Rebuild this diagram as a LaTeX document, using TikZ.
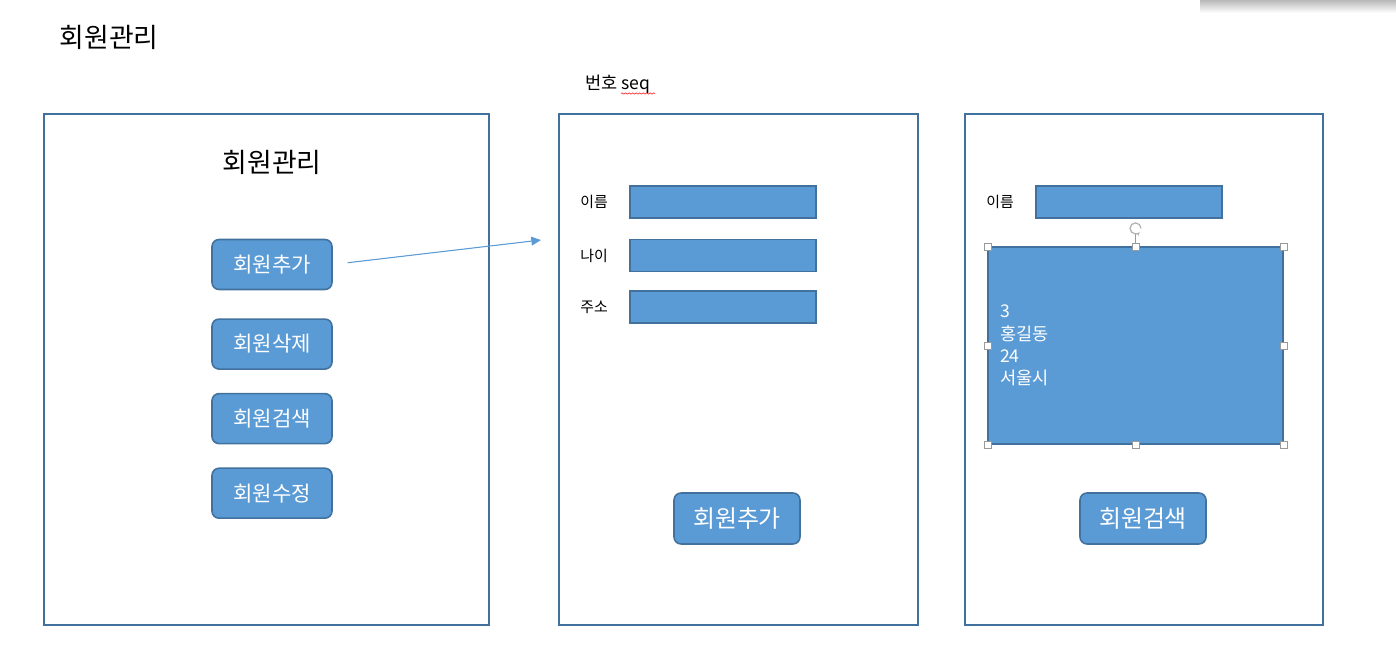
\documentclass[tikz,border=0pt]{standalone}
\usepackage{fontspec}
\setmainfont{Noto Sans CJK KR}
\usetikzlibrary{positioning,arrows.meta,decorations.pathmorphing}
\definecolor{boxblue}{HTML}{5B9BD5}
\definecolor{lineblue}{HTML}{41719C}
\begin{document}
\begin{tikzpicture}[x=0.02cm,y=-0.02cm,
    frame/.style={draw=lineblue,line width=1.1pt,anchor=north west,inner sep=0pt},
    btn/.style={fill=boxblue,draw=lineblue,line width=0.9pt,rounded corners=4pt,
      text=white,minimum width=2.4cm,minimum height=1cm,font=\fontsize{12pt}{14pt}\selectfont},
    bigbtn/.style={btn,minimum width=2.52cm,minimum height=1.02cm,font=\fontsize{13.6pt}{16pt}\selectfont},
    field/.style={fill=boxblue,draw=lineblue,line width=0.9pt,minimum width=3.72cm,minimum height=0.64cm,inner sep=0pt},
    label/.style={font=\fontsize{8.5pt}{10pt}\selectfont,inner sep=0pt},
    handle/.style={draw=gray!80,fill=white,line width=0.4pt,minimum size=0.14cm,inner sep=0pt}]
    \useasboundingbox (0,0) rectangle (1396,671);
    % window shadow in the corner
    \shade[top color=gray!55,bottom color=white] (1200,0) rectangle (1396,13);

    \node[font=\fontsize{15.3pt}{18pt}\selectfont] (title) at (109,37) {회원관리};

    % menu screen
    \node[frame,minimum width=8.9cm,minimum height=10.22cm] (menu) at (43,113) {};
    \node[font=\fontsize{15.3pt}{18pt}\selectfont] (menutitle) at (272,162) {회원관리};
    \node[btn] (add) at (272,264.5) {회원추가};
    \node[btn] (del) [below=0.56cm of add] {회원삭제};
    \node[btn] (find) [below=0.46cm of del] {회원검색};
    \node[btn] (edit) [below=0.46cm of find] {회원수정};

    % add screen
    \node[frame,minimum width=7.18cm,minimum height=10.22cm] (addscr) at (558,113) {};
    \node[font=\fontsize{10pt}{12pt}\selectfont] (seq) at (618,84) {번호 seq};
    \draw[red!80,line width=0.4pt,decorate,decoration={snake,amplitude=0.35pt,segment length=2pt}]
      (621,93.5) -- (655,93.5);
    \node[field] (f1) at (723,202) {};
    \node[field] (f2) [below=0.4cm of f1] {};
    \node[field] (f3) [below=0.36cm of f2] {};
    \node[label] (l1) [left=0.42cm of f1] {이름};
    \node[label] (l2) [left=0.42cm of f2] {나이};
    \node[label] (l3) [left=0.42cm of f3] {주소};
    \node[bigbtn] (addbtn) at (737,518.5) {회원추가};

    \coordinate (tgt) at (541,240);
    \draw[-{Triangle[length=5.5pt,width=5pt]},draw=boxblue,fill=boxblue,line width=0.6pt,
      shorten <=0.3cm] (add.east) -- (tgt);

    % search screen
    \node[frame,minimum width=7.16cm,minimum height=10.22cm] (findscr) at (964,113) {};
    \node[field] (s1) at (1129,202) {};
    \node[label] (sl1) [left=0.42cm of s1] {이름};
    \node[fill=boxblue,draw=lineblue,line width=0.7pt,minimum width=5.9cm,minimum height=3.94cm,
      text width=5.42cm,inner xsep=0.24cm,align=left,text=white,
      font=\fontsize{10pt}{12.6pt}\selectfont] (result) at (1135.5,345.5)
      {3\\홍길동\\24\\서울시};
    \foreach \a in {north west,north,north east,east,south east,south,south west,west}
      \node[handle] at (result.\a) {};
    \coordinate[above=0.36cm of result.north] (rot);
    \draw[gray!80,line width=0.5pt] ([yshift=0.07cm]result.north) -- ([yshift=-0.1cm]rot);
    \draw[gray!60,line width=0.7pt,-{Stealth[length=2.5pt]}]
      ([xshift=0.11cm]rot) arc[start angle=0,end angle=320,radius=0.11cm];
    \node[bigbtn] (findbtn) at (1143,518.5) {회원검색};
\end{tikzpicture}
\end{document}
